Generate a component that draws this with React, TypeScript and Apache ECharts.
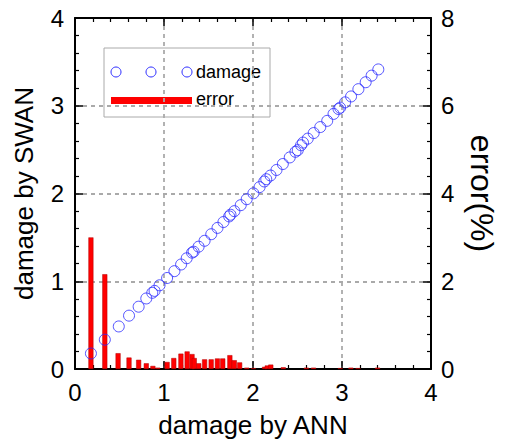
import React, { useEffect, useRef } from "react";
import * as echarts from "echarts";

const damageANN = [0.179, 0.335, 0.492, 0.607, 0.715, 0.801, 0.868, 0.894, 0.95, 1.035, 1.117, 1.192, 1.255, 1.315, 1.333, 1.389, 1.456, 1.531, 1.601, 1.668, 1.732, 1.747, 1.791, 1.862, 1.929, 2.004, 2.074, 2.127, 2.149, 2.197, 2.264, 2.335, 2.413, 2.477, 2.503, 2.54, 2.562, 2.615, 2.682, 2.756, 2.834, 2.905, 2.961, 2.979, 3.035, 3.102, 3.184, 3.266, 3.333, 3.408];
const damageSWAN = [0.177, 0.334, 0.485, 0.608, 0.71, 0.804, 0.868, 0.89, 0.954, 1.037, 1.115, 1.191, 1.262, 1.326, 1.337, 1.394, 1.461, 1.536, 1.608, 1.675, 1.739, 1.758, 1.799, 1.867, 1.935, 2.002, 2.073, 2.137, 2.163, 2.205, 2.268, 2.336, 2.411, 2.475, 2.494, 2.55, 2.58, 2.625, 2.689, 2.757, 2.828, 2.907, 2.963, 2.978, 3.039, 3.106, 3.189, 3.268, 3.343, 3.414];

const errorX = [0.179, 0.335, 0.484, 0.607, 0.715, 0.801, 0.875, 0.93, 1.035, 1.11, 1.19, 1.26, 1.315, 1.34, 1.39, 1.456, 1.53, 1.60, 1.66, 1.74, 1.79, 1.85, 1.93, 2.004, 2.13, 2.16, 2.2, 2.34, 2.6, 2.68, 2.98, 3.1, 3.18, 3.4];
const errorPct = [3.0, 2.16, 0.36, 0.26, 0.21, 0.13, 0.07, 0.03, 0.16, 0.25, 0.35, 0.4, 0.34, 0.25, 0.13, 0.22, 0.22, 0.24, 0.24, 0.315, 0.2, 0.15, 0.03, 0.02, 0.05, 0.08, 0.1, 0.04, 0.03, 0.03, 0.02, 0.03, 0.02, 0.03];

const xTicks = [0, 1, 2, 3, 4];
const FONT = "'Liberation Sans', Arial, sans-serif";
const LEGEND_FONT = "18px 'Liberation Sans', Arial, sans-serif";

export default function App() {
  const ref = useRef<HTMLDivElement>(null);
  useEffect(() => {
    if (!ref.current) return;
    const chart = echarts.init(ref.current, null, { renderer: "svg" });
    const axisLine = { show: true, onZero: false, lineStyle: { color: "#000", width: 2 } };
    const tick = { show: true, inside: true, length: 8, lineStyle: { color: "#000", width: 1.5 } };
    const minor = { show: true, splitNumber: 5, length: 4, lineStyle: { color: "#000", width: 1.2 } };
    const dashed = { show: true, lineStyle: { color: "#aaaaaa", width: 1.8, type: [4, 4] } };
    const label = { color: "#000", fontSize: 24, fontFamily: FONT, margin: 11 };
    chart.setOption({
      animation: false,
      grid: { left: 75, top: 18, right: 73, bottom: 70, containLabel: false },
      xAxis: [
        {
          type: "value", min: xTicks[0], max: xTicks[xTicks.length - 1], interval: 1,
          name: "damage by ANN", nameLocation: "middle", nameGap: 43,
          nameTextStyle: { color: "#000", fontSize: 26, fontFamily: FONT },
          axisLine, axisTick: tick, minorTick: minor, axisLabel: label,
          splitLine: dashed,
        },
        {
          type: "value", position: "top", min: 0, max: 4, interval: 1,
          axisLine, axisTick: tick, minorTick: minor, axisLabel: { show: false },
          splitLine: { show: false },
        },
      ],
      yAxis: [
        {
          type: "value", min: 0, max: 4, interval: 1,
          name: "damage by SWAN", nameLocation: "middle", nameGap: 38, nameRotate: 90,
          nameTextStyle: { color: "#000", fontSize: 26, fontFamily: FONT },
          axisLine, axisTick: tick, minorTick: minor, axisLabel: label,
          splitLine: dashed,
        },
        {
          type: "value", position: "right", min: 0, max: 8, interval: 2,
          name: "error(%)", nameLocation: "middle", nameGap: 35, nameRotate: -90,
          nameTextStyle: { color: "#000", fontSize: 32, fontFamily: FONT },
          axisLine, axisTick: tick, minorTick: minor, axisLabel: { ...label, margin: 10 },
          splitLine: { show: false },
        },
      ],
      series: [
        {
          name: "error", type: "bar", xAxisIndex: 0, yAxisIndex: 1, barWidth: 5, z: 2,
          itemStyle: { color: "#ff0000", borderColor: "#b00000", borderWidth: 0.5 },
          data: errorX.map((x, i) => [x, errorPct[i]]),
        },
        {
          name: "damage", type: "scatter", xAxisIndex: 0, yAxisIndex: 0, z: 3,
          symbol: "circle", symbolSize: 11,
          itemStyle: { color: "rgba(0,0,0,0)", borderColor: "#2a2aff", borderWidth: 1 },
          data: damageANN.map((x, i) => [x, damageSWAN[i]]),
        },
      ],
      graphic: [
        {
          type: "group", z: 100,
          children: [
            { type: "rect", shape: { x: 104, y: 48, width: 166, height: 69 }, style: { fill: "#fff", stroke: "#aaaaaa", lineWidth: 1 } },
            { type: "circle", shape: { cx: 116, cy: 72, r: 5 }, style: { fill: "none", stroke: "#2a2aff", lineWidth: 1 } },
            { type: "circle", shape: { cx: 151, cy: 72, r: 5 }, style: { fill: "none", stroke: "#2a2aff", lineWidth: 1 } },
            { type: "circle", shape: { cx: 187, cy: 72, r: 5 }, style: { fill: "none", stroke: "#2a2aff", lineWidth: 1 } },
            { type: "text", x: 196, y: 72, style: { text: "damage", fill: "#000", font: LEGEND_FONT, verticalAlign: "middle" } },
            { type: "rect", shape: { x: 111, y: 97, width: 81, height: 7 }, style: { fill: "#ff0000" } },
            { type: "text", x: 196, y: 99, style: { text: "error", fill: "#000", font: LEGEND_FONT, verticalAlign: "middle" } },
          ],
        },
      ],
    });
    return () => chart.dispose();
  }, []);
  return <div ref={ref} style={{ position: "fixed", left: 0, top: 0, width: 506, height: 443, background: "#fff" }} />;
}
